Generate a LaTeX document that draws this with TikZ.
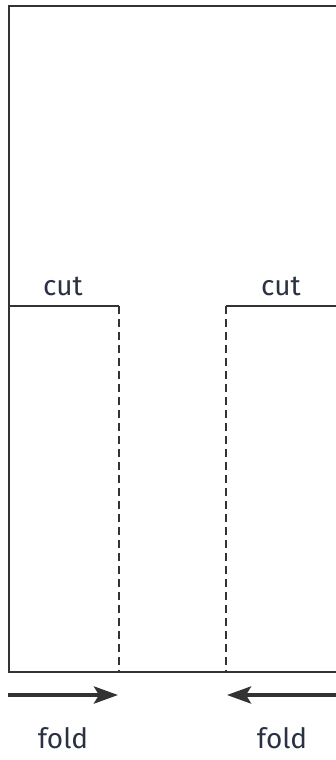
\documentclass[tikz,border=0pt]{standalone}
\usepackage{fontspec}
\setmainfont{Fira Sans}
\usetikzlibrary{arrows.meta}
\definecolor{inkline}{HTML}{333333}
\definecolor{inktext}{HTML}{2A3142}
\tikzset{
  edge/.style={line width=2pt, draw=inkline},
  foldline/.style={line width=1.8pt, draw=inkline, dash pattern=on 8pt off 5pt},
  foldarrow/.style={line width=4pt, draw=inkline, -{Stealth[length=24pt,width=17pt,inset=5pt]}},
  lbl/.style={font=\fontsize{28}{30}\selectfont, text=inktext, inner sep=0pt}
}
\begin{document}
\begin{tikzpicture}[x=1pt,y=-1pt]
    \useasboundingbox (0,0) rectangle (335,760);

    % Paper outline
    \draw[edge] (9,6) rectangle (345,672);

    % Cut lines
    \coordinate (lcutL) at (9,306);
    \coordinate (lcutR) at (119,306);
    \coordinate (rcutL) at (226,306);
    \coordinate (rcutR) at (345,306);
    \draw[edge] (lcutL) -- (lcutR);
    \draw[edge] (rcutL) -- (rcutR);
    \node[lbl] (cutL) at (63,286) {cut};
    \node[lbl] (cutR) at (281,286) {cut};

    % Fold lines
    \coordinate (lfoldB) at (119,672);
    \coordinate (rfoldB) at (226,672);
    \draw[foldline] (lcutR) -- (lfoldB);
    \draw[foldline] (rcutL) -- (rfoldB);

    % Fold arrows
    \coordinate (larrS) at (8,695);
    \coordinate (larrE) at (118,695);
    \coordinate (rarrS) at (345,695);
    \coordinate (rarrE) at (227,695);
    \draw[foldarrow] (larrS) -- (larrE);
    \draw[foldarrow] (rarrS) -- (rarrE);
    \node[lbl] (foldL) at (63,738) {fold};
    \node[lbl] (foldR) at (282,738) {fold};
\end{tikzpicture}
\end{document}
